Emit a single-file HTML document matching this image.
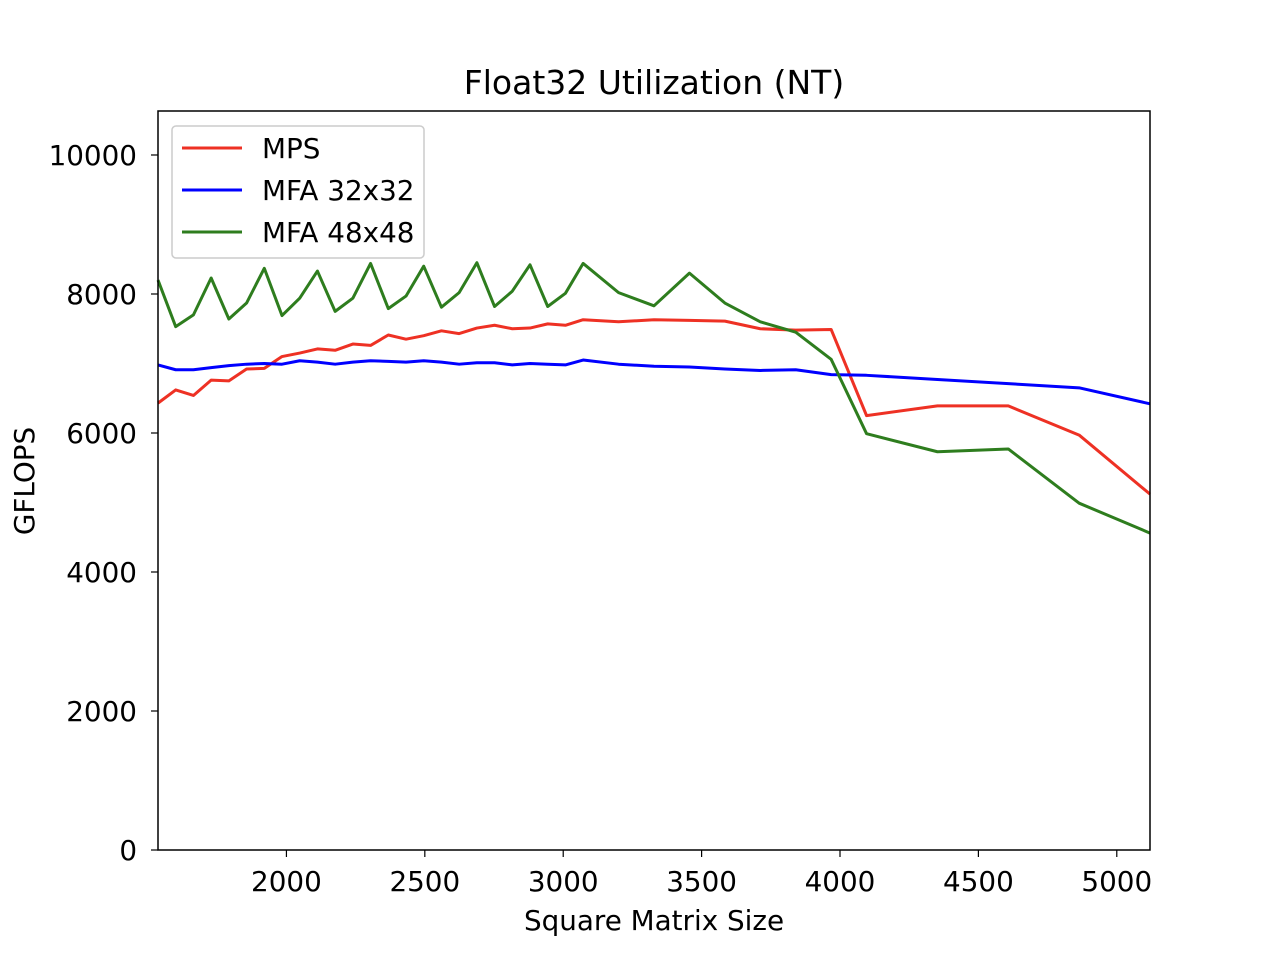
<!DOCTYPE html>
<html><head><meta charset="utf-8"><style>
body{margin:0;background:#fff;}
svg{display:block;font-family:"DejaVu Sans","Liberation Sans",sans-serif;}
</style></head><body>
<svg id="chart" width="1276" height="954">
<rect width="1276" height="954" fill="#fff"/>
<text x="654" y="94" font-size="33" text-anchor="middle">Float32 Utilization (NT)</text>
<g id="plot"></g>
<rect x="158" y="111" width="992" height="739" fill="none" stroke="#000" stroke-width="1.5"/>
<text x="654" y="930" font-size="27.8" text-anchor="middle">Square Matrix Size</text>
<text x="0" y="0" font-size="27.8" text-anchor="middle" transform="translate(34,481) rotate(-90)">GFLOPS</text>
<g>
<rect x="172" y="126" width="252" height="132" rx="4" fill="#fff" fill-opacity="0.8" stroke="#ccc" stroke-width="1.5"/>
<line x1="182" y1="148" x2="242" y2="148" stroke="#ee3124" stroke-width="3"/>
<text x="262" y="158" font-size="27.8">MPS</text>
<line x1="182" y1="190" x2="242" y2="190" stroke="#0000ff" stroke-width="3"/>
<text x="262" y="200" font-size="27.8">MFA 32x32</text>
<line x1="182" y1="232" x2="242" y2="232" stroke="#2e7d1e" stroke-width="3"/>
<text x="262" y="242" font-size="27.8">MFA 48x48</text>
</g>
</svg>
<script>
const sizes = [1536,1600,1664,1728,1792,1856,1920,1984,2048,2112,2176,2240,2304,2368,2432,2496,2560,2624,2688,2752,2816,2880,2944,3008,3072,3200,3328,3456,3584,3712,3840,3968,4096,4352,4608,4864,5120];
const mps = [6430,6620,6540,6760,6750,6920,6930,7100,7150,7210,7190,7280,7260,7410,7350,7400,7470,7430,7510,7550,7500,7510,7570,7550,7630,7600,7630,7620,7610,7500,7480,7490,6250,6390,6390,5970,5120];
const mfa32 = [6980,6910,6910,6940,6970,6990,7000,6990,7040,7020,6990,7020,7040,7030,7020,7040,7020,6990,7010,7010,6980,7000,6990,6980,7050,6990,6960,6950,6920,6900,6910,6840,6830,6770,6710,6650,6420];
const mfa48 = [8200,7530,7700,8230,7640,7870,8370,7690,7940,8330,7750,7940,8440,7790,7970,8400,7810,8020,8450,7820,8040,8420,7820,8010,8440,8020,7830,8300,7870,7600,7450,7060,5990,5730,5770,4990,4560];
const xTicks = [2000,2500,3000,3500,4000,4500,5000];
const yTicks = [0,2000,4000,6000,8000,10000];
const X0=1536,X1=5120,Y0=0,Y1=10633,L=158,R=1150,T=111,B=850;
const xs=v=>L+(v-X0)/(X1-X0)*(R-L);
const ys=v=>B-(v-Y0)/(Y1-Y0)*(B-T);
const NS='http://www.w3.org/2000/svg';
const g=document.getElementById('plot');
function mk(tag,attrs){const e=document.createElementNS(NS,tag);for(const k in attrs)e.setAttribute(k,attrs[k]);return e;}
xTicks.forEach(t=>{
  const x=xs(t);
  const l=mk('line',{x1:x,x2:x,y1:B,y2:B+7,stroke:'#000','stroke-width':1.2});
  
  
  g.appendChild(l);
  const tx=mk('text',{x:x,y:B+41,'font-size':27.8,'text-anchor':'middle'});
  
  
  tx.textContent=t;g.appendChild(tx);
});
yTicks.forEach(t=>{
  const y=ys(t);
  const l=mk('line',{x1:L-7,x2:L,y1:y,y2:y,stroke:'#000','stroke-width':1.2});
  
  
  g.appendChild(l);
  const tx=mk('text',{x:L-21,y:y+10,'font-size':27.8,'text-anchor':'end'});
  
  
  tx.textContent=t;g.appendChild(tx);
});
function line(data,color,name){
  const p=mk('polyline',{points:data.map((v,i)=>xs(sizes[i])+','+ys(v)).join(' '),fill:'none',stroke:color,'stroke-width':3,'stroke-linejoin':'round'});
  
  
  g.appendChild(p);
}
line(mps,'#ee3124','mps-line');
line(mfa32,'#0000ff','mfa-32x32-line');
line(mfa48,'#2e7d1e','mfa-48x48-line');
</script>
</body></html>
